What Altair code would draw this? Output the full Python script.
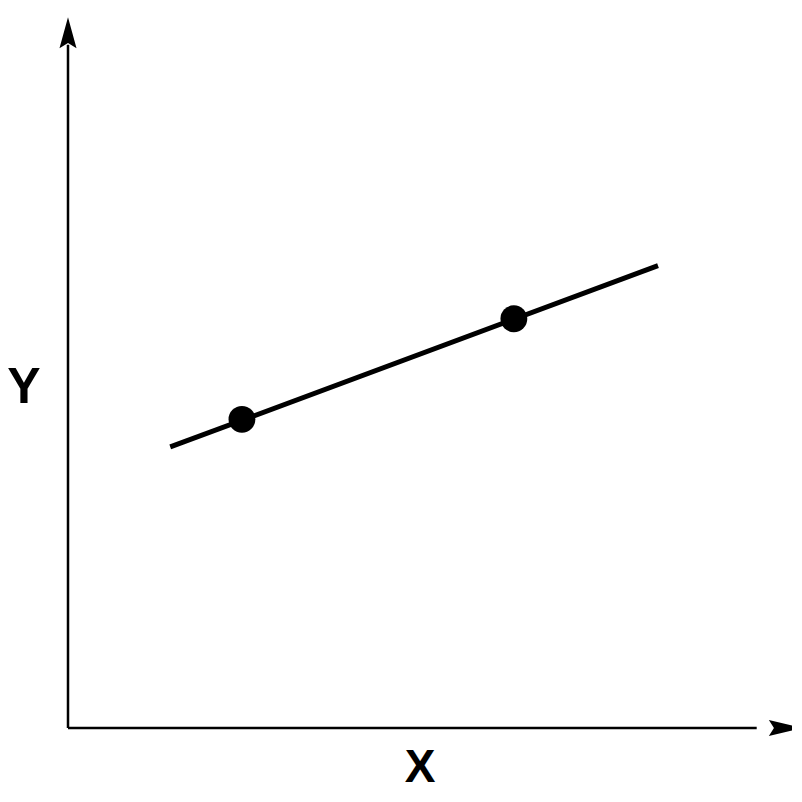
import altair as alt
import pandas as pd

# Line segment (data units)
line_x = [14.4, 83.1]
line_y = [39.7, 65.3]
# Marked points on the line
pt_x = [24.5, 62.8]
pt_y = [43.6, 57.8]
# Axis extents
axis_x_end = 97.0
axis_y_end = 96.5
# Labels
label_text = ["X", "Y"]
label_x = [49.6, -6.2]
label_y = [-5.6, 48.0]

xs = alt.Scale(domain=[0, 100], nice=False, zero=False)
ys = alt.Scale(domain=[0, 100], nice=False, zero=False)

line_df = pd.DataFrame({"x": line_x, "y": line_y})
pt_df = pd.DataFrame({"x": pt_x, "y": pt_y})

axes_df = pd.DataFrame({
    "x": [0, 0], "y": [0, 0],
    "x2": [axis_x_end, 0], "y2": [0, axis_y_end],
})

rules = alt.Chart(axes_df).mark_rule(color="black", strokeWidth=2.5).encode(
    x=alt.X("x:Q", scale=xs, axis=None),
    y=alt.Y("y:Q", scale=ys, axis=None),
    x2="x2:Q", y2="y2:Q",
)

arrow_up = alt.Chart(pd.DataFrame({"x": [0], "y": [98.2]})).mark_point(
    shape="M0,-1L0.55,1L0,0.67L-0.55,1Z", filled=True, size=960,
    color="black", opacity=1, strokeWidth=0,
).encode(x=alt.X("x:Q", scale=xs, axis=None), y=alt.Y("y:Q", scale=ys, axis=None))

arrow_right = alt.Chart(pd.DataFrame({"x": [101.1], "y": [0]})).mark_point(
    shape="M1,0L-1,0.47L-0.7,0L-1,-0.47Z", filled=True, size=1150,
    color="black", opacity=1, strokeWidth=0,
).encode(x=alt.X("x:Q", scale=xs, axis=None), y=alt.Y("y:Q", scale=ys, axis=None))

line = alt.Chart(line_df).mark_line(color="black", strokeWidth=5).encode(
    x=alt.X("x:Q", scale=xs, axis=None), y=alt.Y("y:Q", scale=ys, axis=None)
)

pts = alt.Chart(pt_df).mark_point(
    shape="circle", filled=True, size=720, color="black", opacity=1
).encode(x=alt.X("x:Q", scale=xs, axis=None), y=alt.Y("y:Q", scale=ys, axis=None))

lab_df = pd.DataFrame({"t": label_text, "x": label_x, "y": label_y,
                       "s": [46, 50]})
labels = alt.Chart(lab_df).mark_text(
    font="Liberation Sans", fontWeight="bold", color="black",
    align="center", baseline="middle",
).encode(
    x=alt.X("x:Q", scale=xs, axis=None), y=alt.Y("y:Q", scale=ys, axis=None),
    text="t:N", size=alt.Size("s:Q", scale=None, legend=None),
)

chart = alt.layer(rules, arrow_up, arrow_right, line, pts, labels).properties(
    width=710, height=708,
    background="white",
    autosize=alt.AutoSizeParams(type="none"),
    padding={"left": 60, "top": 12, "right": 14, "bottom": 64},
).configure_view(strokeWidth=0, stroke="transparent")

chart.save("out.html", embed_options={"renderer": "svg", "actions": False})
